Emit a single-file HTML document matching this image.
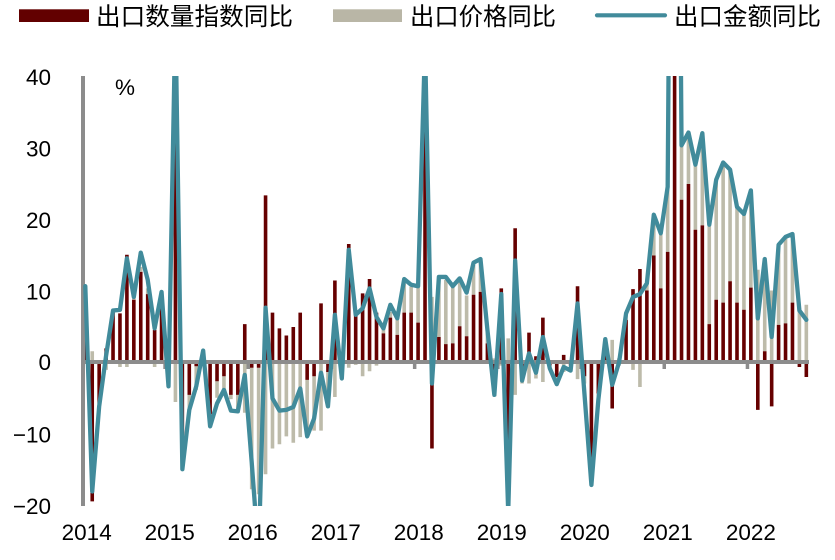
<!DOCTYPE html>
<html>
<head>
<meta charset="utf-8">
<style>
  html,body{margin:0;padding:0;background:#fff;}
  svg{display:block;}
  text{font-family:"Liberation Sans","Noto Sans CJK SC",sans-serif;fill:#000;}
  .cjk{font-family:"Noto Sans CJK SC","WenQuanYi Zen Hei",sans-serif;}
</style>
</head>
<body>
<svg width="835" height="560" viewBox="0 0 835 560" xmlns="http://www.w3.org/2000/svg">
  <defs>
    <clipPath id="pc"><rect x="83" y="76" width="730" height="430"/></clipPath>
  </defs>

  <!-- Legend -->
  <rect x="19" y="9.3" width="70" height="12.7" fill="#620000"/>
  <text class="cjk" x="96" y="25" font-size="24.5" textLength="197" lengthAdjust="spacingAndGlyphs">出口数量指数同比</text>
  <rect x="333" y="9.3" width="69" height="12.7" fill="#b9b6a6"/>
  <text class="cjk" x="410" y="25" font-size="24.5" textLength="146" lengthAdjust="spacingAndGlyphs">出口价格同比</text>
  <line x1="597" y1="15.3" x2="665" y2="15.3" stroke="#418b9b" stroke-width="4.2" stroke-linecap="round"/>
  <text class="cjk" x="674" y="25" font-size="24.5" textLength="147" lengthAdjust="spacingAndGlyphs">出口金额同比</text>

  <!-- Y labels -->
  <g font-size="22.5" text-anchor="end">
    <text x="51" y="85">40</text>
    <text x="51" y="156.5">30</text>
    <text x="51" y="228">20</text>
    <text x="51" y="299.5">10</text>
    <text x="51" y="370">0</text>
    <text x="51" y="442.5">−10</text>
    <text x="51" y="514">−20</text>
  </g>
  <text x="115" y="95" font-size="22.5">%</text>

  <!-- X labels -->
  <g font-size="22.5" text-anchor="middle">
    <text x="86.7" y="540">2014</text>
    <text x="169.7" y="540">2015</text>
    <text x="252.7" y="540">2016</text>
    <text x="335.8" y="540">2017</text>
    <text x="418.8" y="540">2018</text>
    <text x="501.8" y="540">2019</text>
    <text x="584.8" y="540">2020</text>
    <text x="667.8" y="540">2021</text>
    <text x="750.9" y="540">2022</text>
  </g>

  <g clip-path="url(#pc)">
    <g transform="translate(85.3,362) scale(6.933,-7.15)">
      <!-- gray (price) bars -->
      <path fill="none" stroke="#bdbbaa" stroke-width="3.6" vector-effect="non-scaling-stroke" stroke-linecap="butt"
        d="M1 0V1.5M3 0V-1.1M5 0V-0.7M6 0V-0.7M7 8.7V9.1M8 12.6V13.3M9 9.5V10.3M10 0V-0.7
           M13 0V-5.6M14 -12V-15M15 -4.6V-6.6M16 -0.6V-3.9M18 -7.3V-8.3M19 -2.7V-5M20 -2V-4.6M21 -4.6V-5.2M22 -4.6V-7.1M23 0V-7.1
           M24 -0.8V-17.8M25 -0.8V-18.5M26 0V-15.7M27 0V-12.1M28 0V-11.5M29 0V-10.4M30 0V-11.3M31 0V-10.5M32 -2.5V-10.4M33 -2V-9.6M34 0V-9.6M35 -1.4V-6.4
           M36 0V-4.9M37 -1V-1.5M38 0V-0.8M39 0V-0.4M40 0V-2M41 0V-1.3M42 0V-0.5M43 4V4.7M44 6.2V7M45 3.8V6.1M46 6.9V11M47 6.9V10.5
           M48 5.5V10.5M50 0V9.1M51 3.5V11.9M52 2.5V11.5M53 2.6V10.5M54 5V11.7M55 3.6V9.3M56 9.4V13.8M57 9.8V14M58 2.6V4.1M59 0V0.5
           M60 0V-0.5M61 0V3.3M62 0V-4.6M63 -1V-3M64 0V-3M65 0V-2.3M66 0V-2.8M67 -0.5V-1M68 -2.1V-3.1M69 0V-1.4M70 -0.5V-1M71 0V-2.4
           M72 -2V-3M73 -15V-16M74 -4.4V-5.4M75 1V1.5M76 0V3.1M77 0V-0.5M78 5.9V6.8M79 0V-1.1M80 0V-3.5M81 10V11M82 14.9V20.3M83 10.3V18
           M84 15.4V24.4M86 22.7V30.2M87 24.9V32M88 18.5V27.6M89 19.1V31.8M90 5.3V19.2M91 8.7V25.5M92 8.3V27.8M93 11.3V26.9M94 8.3V21.7M95 7.3V20.7
           M96 10.4V23.8M97 0V12.9M98 1.5V13.5M99 0V10M100 5.2V16.4M101 5.4V17.3M102 8.3V17.8M103 0V7.5M104 0V8"/>
      <!-- red (volume) bars -->
      <path fill="none" stroke="#660000" stroke-width="3.6" vector-effect="non-scaling-stroke" stroke-linecap="butt"
        d="M0 0V4.2M1 0V-19.5M2 0V-5.8M3 0V1.9M4 0V7M5 0V6.8M6 0V15M7 0V8.7M8 0V12.6M9 0V9.5M10 0V4.5M11 0V9.1
           M12 0V-0.9M13 0V36M14 0V-12M15 0V-4.6M16 0V-0.6M17 0V1.5M18 0V-7.3M19 0V-2.7M20 0V-2M21 0V-4.6M22 0V-4.6M23 0V5.3
           M24 0V-0.8M25 0V-0.8M26 0V23.3M27 0V6.9M28 0V4.7M29 0V3.7M30 0V4.9M31 0V6.9M32 0V-2.5M33 0V-2M34 0V8.2M35 0V-1.4
           M36 0V11.4M37 0V-1M38 0V16.5M39 0V7M40 0V9.6M41 0V11.6M42 0V6.9M43 0V4M44 0V6.2M45 0V3.8M46 0V6.9M47 0V6.9
           M48 0V5.5M49 0V33M50 0V-12.1M51 0V3.5M52 0V2.5M53 0V2.6M54 0V5M55 0V3.6M56 0V9.4M57 0V9.8M58 0V2.6M59 0V-4.8
           M60 0V10.3M61 0V-18M62 0V18.7M63 0V-1M64 0V4.1M65 0V0.8M66 0V6.2M67 0V-0.5M68 0V-2.1M69 0V1M70 0V-0.5M71 0V10.6
           M72 0V-2M73 0V-15M74 0V-4.4M75 0V1M76 0V-6.5M77 0V0.5M78 0V5.9M79 0V10.2M80 0V13M81 0V10M82 0V14.9M83 0V10.3
           M84 0V15.4M85 0V120M86 0V22.7M87 0V24.9M88 0V18.5M89 0V19.1M90 0V5.3M91 0V8.7M92 0V8.3M93 0V11.3M94 0V8.3M95 0V7.3
           M96 0V10.4M97 0V-6.7M98 0V1.5M99 0V-6.2M100 0V5.2M101 0V5.4M102 0V8.3M103 0V-0.7M104 0V-2.1"/>
    </g>
  </g>

  <!-- axes (not clipped) -->
  <rect x="81" y="76" width="4" height="430" fill="#8c8c8c"/>
  <rect x="81" y="360" width="728" height="4" fill="#8c8c8c"/>
  <g fill="#8c8c8c">
    <rect x="163.3" y="362" width="3.5" height="7"/>
    <rect x="246.5" y="362" width="3.5" height="7"/>
    <rect x="329.7" y="362" width="3.5" height="7"/>
    <rect x="412.9" y="362" width="3.5" height="7"/>
    <rect x="496.1" y="362" width="3.5" height="7"/>
    <rect x="579.3" y="362" width="3.5" height="7"/>
    <rect x="662.5" y="362" width="3.5" height="7"/>
    <rect x="745.7" y="362" width="3.5" height="7"/>
  </g>

  <!-- export value line -->
  <g clip-path="url(#pc)">
    <g transform="translate(85.3,362) scale(6.933,-7.15)">
      <path fill="none" stroke="#418b9b" stroke-width="4.3" vector-effect="non-scaling-stroke" stroke-linejoin="round" stroke-linecap="round"
        d="M0 10.6L1 -18.1L2 -6.2L3 0.9L4 7.2L5 7.3L6 14.5L7 9.1L8 15.3L9 11.5L10 4.7L11 9.8
           L12 -3.4L13 48.3L14 -15L15 -6.7L16 -3.4L17 1.6L18 -9L19 -5.8L20 -3.9L21 -6.8L22 -6.9L23 -1.8
           L24 -14L25 -27L26 7.6L27 -5.1L28 -6.8L29 -6.7L30 -6.3L31 -3.7L32 -10.4L33 -7.9L34 -1.5L35 -6.2
           L36 6.6L37 -2.3L38 15.7L39 6.6L40 7.5L41 10.3L42 6.3L43 4.7L44 8L45 6.1L46 11.6L47 10.8
           L48 10.6L49 44.5L50 -3L51 11.9L52 11.9L53 10.6L54 11.7L55 9.7L56 13.9L57 14.4L58 4.5L59 -4.6
           L60 9.5L61 -21L62 14.2L63 -2.6L64 1.2L65 -1.5L66 3.5L67 -0.9L68 -3.1L69 -0.7L70 -1.2L71 8.2
           L72 -4.5L73 -17.2L74 -5.3L75 3.2L76 -3.2L77 0L78 6.8L79 9.1L80 9.5L81 11L82 20.6L83 18
           L84 24.5L85 154L86 30.3L87 32.1L88 27.6L89 32L90 19.2L91 25.5L92 27.9L93 26.9L94 21.7L95 20.7
           L96 24L97 6.1L98 14.4L99 3.5L100 16.4L101 17.5L102 17.9L103 7.2L104 5.9"/>
    </g>
  </g>
</svg>
</body>
</html>
